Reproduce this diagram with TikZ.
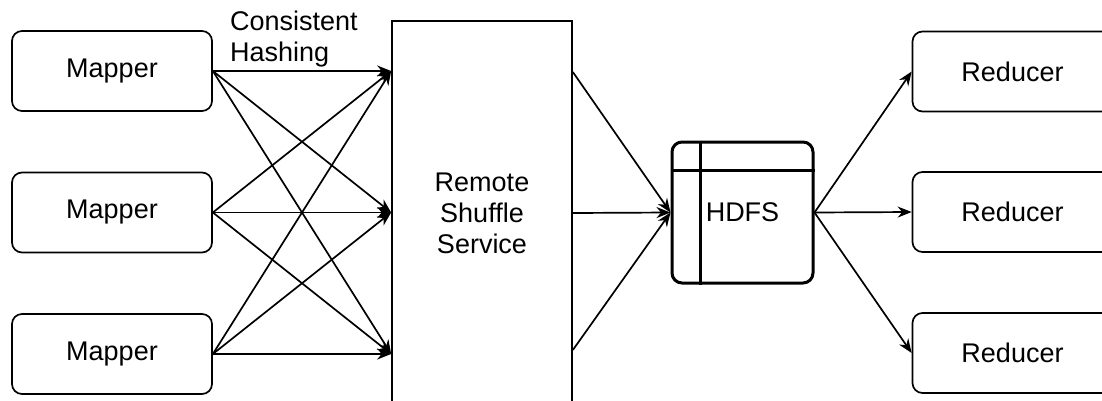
\documentclass[tikz,border=0pt]{standalone}
\usepackage{fontspec}
\setmainfont{Liberation Sans}
\usetikzlibrary{positioning,arrows.meta}
\begin{document}
\begin{tikzpicture}[x=1pt,y=1pt,font=\fontsize{27}{31}\selectfont,
  job/.style={rectangle,rounded corners=10pt,draw,line width=1.7pt,minimum width=200pt,minimum height=80pt,inner sep=0pt},
  svc/.style={rectangle,draw,line width=1.7pt,minimum width=180pt,minimum height=384pt,align=center,inner sep=0pt},
  store/.style={rectangle,rounded corners=10pt,draw,line width=3pt,minimum size=141pt,inner sep=0pt},
  ar/.style={-{Stealth[length=14pt,width=11pt]},line width=1.7pt}]
\useasboundingbox (0,0) rectangle (1102,400);
% ---- left: mappers ----
\foreach \i/\y in {1/329,2/187.5,3/46}{
  \node[job] (m\i) at (112,\y) {Mapper};}
\node[anchor=north west,inner sep=0pt,align=left] (hash) at (230,389) {Consistent\\Hashing};
% ---- middle: shuffle service ----
\node[svc] (rss) at (482,187) {Remote\\Shuffle\\Service};
\foreach \s in {1,2,3}{
  \foreach \t in {1,2,3}{
    \draw[ar] (m\s.east) -- (rss.west |- m\t);}}
% ---- HDFS ----
\node[store] (hdfs) at (742.5,187.5) {HDFS};
\draw[line width=3pt] ([yshift=-30pt]hdfs.north west) -- ([yshift=-30pt]hdfs.north east);
\draw[line width=3pt] ([xshift=30pt]hdfs.north west) -- ([xshift=30pt]hdfs.south west);
\draw[ar] ([yshift=141pt]rss.east) -- (hdfs.west);
\draw[ar] (rss.east) -- (hdfs.west);
\draw[ar] ([yshift=-137pt]rss.east) -- (hdfs.west);
% ---- right: reducers ----
\foreach \i/\y in {1/328.5,2/188,3/47}{
  \node[job] (r\i) at (1012.5,\y) {Reducer};
  \draw[ar] (hdfs.east) -- (r\i.west);}
\end{tikzpicture}
\end{document}
